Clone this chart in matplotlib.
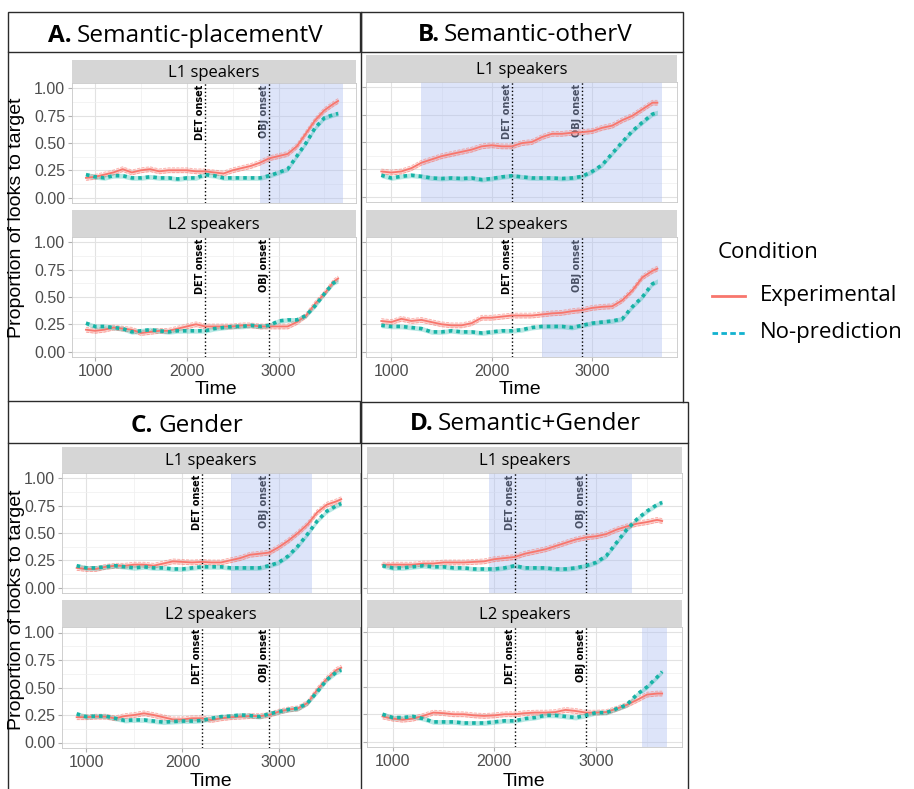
import numpy as np
import matplotlib.pyplot as plt
from matplotlib.lines import Line2D
from matplotlib.patches import Rectangle

W, H = 914, 789

# time points (ms)
time = [900, 1000, 1100, 1200, 1300, 1400, 1500, 1600, 1700, 1800,
        1900, 2000, 2100, 2200, 2300, 2400, 2500, 2600, 2700, 2800,
        2900, 3000, 3100, 3200, 3300, 3400, 3500, 3600, 3650]

# A. Semantic-placementV
a_l1_exp = [0.18, 0.19, 0.21, 0.23, 0.26, 0.23, 0.25, 0.26, 0.24, 0.25, 0.25, 0.25, 0.24, 0.24, 0.23,
            0.22, 0.25, 0.27, 0.29, 0.32, 0.36, 0.38, 0.40, 0.47, 0.59, 0.71, 0.80, 0.86, 0.885]
a_l1_nop = [0.21, 0.19, 0.18, 0.20, 0.20, 0.18, 0.18, 0.19, 0.18, 0.18, 0.17, 0.18, 0.18, 0.21, 0.20,
            0.18, 0.18, 0.18, 0.18, 0.18, 0.20, 0.23, 0.26, 0.38, 0.50, 0.64, 0.73, 0.76, 0.77]
a_l2_exp = [0.20, 0.19, 0.20, 0.22, 0.21, 0.20, 0.17, 0.18, 0.19, 0.19, 0.21, 0.23, 0.25, 0.23, 0.23,
            0.23, 0.23, 0.24, 0.24, 0.23, 0.23, 0.23, 0.23, 0.27, 0.33, 0.44, 0.53, 0.64, 0.67]
a_l2_nop = [0.26, 0.23, 0.23, 0.22, 0.21, 0.18, 0.19, 0.20, 0.19, 0.18, 0.19, 0.19, 0.19, 0.19, 0.21,
            0.22, 0.23, 0.23, 0.24, 0.23, 0.24, 0.28, 0.29, 0.29, 0.33, 0.42, 0.53, 0.63, 0.65]

# B. Semantic-otherV
b_l1_exp = [0.23, 0.22, 0.23, 0.26, 0.31, 0.34, 0.37, 0.39, 0.41, 0.43, 0.46, 0.47, 0.46, 0.46, 0.49,
            0.50, 0.545, 0.575, 0.575, 0.585, 0.59, 0.60, 0.63, 0.65, 0.70, 0.74, 0.80, 0.86, 0.86]
b_l1_nop = [0.195, 0.17, 0.185, 0.195, 0.185, 0.17, 0.165, 0.17, 0.165, 0.17, 0.155, 0.165, 0.18, 0.19, 0.18,
            0.17, 0.17, 0.17, 0.165, 0.17, 0.185, 0.23, 0.29, 0.395, 0.50, 0.60, 0.68, 0.755, 0.77]
b_l2_exp = [0.28, 0.27, 0.30, 0.28, 0.29, 0.27, 0.25, 0.24, 0.24, 0.26, 0.31, 0.31, 0.32, 0.33, 0.33,
            0.33, 0.34, 0.35, 0.355, 0.37, 0.38, 0.40, 0.41, 0.415, 0.47, 0.56, 0.68, 0.74, 0.76]
b_l2_nop = [0.24, 0.23, 0.23, 0.22, 0.21, 0.18, 0.18, 0.19, 0.18, 0.18, 0.17, 0.18, 0.19, 0.19, 0.20,
            0.22, 0.23, 0.23, 0.23, 0.22, 0.24, 0.26, 0.27, 0.28, 0.30, 0.41, 0.50, 0.62, 0.645]

# C. Gender
c_l1_exp = [0.18, 0.17, 0.17, 0.19, 0.20, 0.20, 0.21, 0.21, 0.20, 0.22, 0.24, 0.235, 0.23, 0.235, 0.23,
            0.23, 0.25, 0.27, 0.30, 0.31, 0.32, 0.37, 0.43, 0.50, 0.58, 0.69, 0.76, 0.79, 0.81]
c_l1_nop = [0.20, 0.18, 0.18, 0.19, 0.20, 0.19, 0.18, 0.19, 0.18, 0.18, 0.17, 0.17, 0.18, 0.19, 0.19,
            0.19, 0.18, 0.18, 0.18, 0.18, 0.20, 0.23, 0.29, 0.38, 0.49, 0.61, 0.70, 0.75, 0.77]
c_l2_exp = [0.23, 0.23, 0.235, 0.235, 0.22, 0.24, 0.25, 0.265, 0.25, 0.23, 0.21, 0.21, 0.22, 0.22, 0.205,
            0.22, 0.23, 0.235, 0.24, 0.24, 0.25, 0.28, 0.30, 0.31, 0.36, 0.48, 0.58, 0.66, 0.68]
c_l2_nop = [0.26, 0.235, 0.24, 0.24, 0.22, 0.20, 0.205, 0.205, 0.195, 0.185, 0.19, 0.195, 0.195, 0.20, 0.22,
            0.235, 0.24, 0.25, 0.245, 0.235, 0.26, 0.28, 0.30, 0.31, 0.36, 0.46, 0.57, 0.64, 0.66]

# D. Semantic+Gender
d_l1_exp = [0.21, 0.21, 0.21, 0.21, 0.22, 0.22, 0.23, 0.23, 0.23, 0.235, 0.24, 0.26, 0.27, 0.28, 0.31,
            0.33, 0.35, 0.38, 0.41, 0.44, 0.46, 0.47, 0.49, 0.53, 0.56, 0.585, 0.60, 0.62, 0.61]
d_l1_nop = [0.20, 0.18, 0.18, 0.19, 0.20, 0.19, 0.19, 0.18, 0.18, 0.17, 0.17, 0.17, 0.18, 0.20, 0.18,
            0.18, 0.18, 0.17, 0.17, 0.18, 0.20, 0.23, 0.29, 0.41, 0.53, 0.625, 0.70, 0.76, 0.78]
d_l2_exp = [0.23, 0.21, 0.20, 0.21, 0.235, 0.265, 0.26, 0.25, 0.25, 0.24, 0.235, 0.24, 0.25, 0.25, 0.26,
            0.265, 0.265, 0.27, 0.29, 0.28, 0.265, 0.265, 0.27, 0.30, 0.335, 0.38, 0.43, 0.44, 0.44]
d_l2_nop = [0.25, 0.22, 0.22, 0.23, 0.21, 0.18, 0.18, 0.18, 0.17, 0.17, 0.17, 0.18, 0.19, 0.19, 0.21,
            0.22, 0.24, 0.24, 0.23, 0.22, 0.24, 0.265, 0.265, 0.30, 0.335, 0.43, 0.50, 0.59, 0.64]

det_onset = 2200
obj_onset = 2900

# significant windows (shaded)
a_l1_win = (2800, 3700)
b_l1_win = (1300, 3700)
b_l2_win = (2500, 3700)
c_l1_win = (2500, 3350)
d_l1_win = (1950, 3350)
d_l2_win = (3450, 3700)

RED = '#F8766D'
TEAL = '#17B3A6'
TEAL_LEG = '#12B2CF'
band = 0.022

fig = plt.figure(figsize=(W / 100, H / 100), dpi=100)
fig.patch.set_facecolor('white')


def fx(x):
    return x / W


def fy(y):
    return 1 - y / H


def add_ax(l, t, r, b):
    return fig.add_axes([l / W, 1 - b / H, (r - l) / W, (b - t) / H])


def panel(l, r, st, t, b, label, exp, nop, win, ylab, xlab):
    s = add_ax(l, st, r, t)
    s.set_facecolor('#D6D6D6')
    s.set_xticks([]); s.set_yticks([])
    for sp in s.spines.values():
        sp.set_visible(False)
    s.text(0.5, 0.45, label, ha='center', va='center', fontsize=12, family='Open Sans', transform=s.transAxes)

    ax = add_ax(l, t, r, b)
    ax.set_xlim(748, 3845)
    ax.set_ylim(-0.05, 1.05)
    ax.set_xticks([1000, 2000, 3000])
    ax.set_xticks([1500, 2500, 3500], minor=True)
    ax.set_yticks([0, 0.25, 0.5, 0.75, 1.0])
    ax.set_yticks([0.125, 0.375, 0.625, 0.875], minor=True)
    ax.grid(which='major', color='#E2E2E2', lw=0.8)
    ax.grid(which='minor', color='#EFEFEF', lw=0.5)
    ax.set_axisbelow(True)
    for sp in ax.spines.values():
        sp.set_color('#C8C8C8'); sp.set_linewidth(0.6)
    ax.tick_params(which='major', length=3, color='#B0B0B0', labelsize=11.5, labelcolor='#4D4D4D', pad=2)
    ax.tick_params(which='minor', length=0)
    if ylab:
        ax.set_yticklabels(['0.00', '0.25', '0.50', '0.75', '1.00'], family='Liberation Sans')
    else:
        ax.set_yticklabels([])
    if xlab:
        ax.set_xticklabels(['1000', '2000', '3000'], family='Liberation Sans')
    else:
        ax.set_xticklabels([])
        ax.tick_params(axis='x', length=0)

    if win:
        ax.axvspan(win[0], win[1], color='#AFC0F2', alpha=0.42, lw=0, zorder=2)

    e = np.array(exp); n = np.array(nop)
    ax.fill_between(time, e - band, e + band, color=RED, alpha=0.3, lw=0, zorder=3)
    ax.plot(time, e - band, color=RED, lw=0.6, ls='--', alpha=0.6, zorder=3)
    ax.plot(time, e + band, color=RED, lw=0.6, ls='--', alpha=0.6, zorder=3)
    ax.fill_between(time, n - band, n + band, color=TEAL, alpha=0.3, lw=0, zorder=3)
    ax.plot(time, e, color=RED, lw=1.3, zorder=5)
    ax.plot(time, n, color=TEAL, lw=2.6, ls=(0, (1, 1.1)), zorder=5)

    for x, txt in ((det_onset, 'DET onset'), (obj_onset, 'OBJ onset')):
        ax.axvline(x, color='black', ls=':', lw=1.0, zorder=4)
        ax.text(x, 1.035, txt, rotation=90, ha='right', va='top', fontsize=7,
                fontweight='bold', zorder=1)
    return ax


# panel A
panel(72, 356, 60, 83, 203, 'L1 speakers', a_l1_exp, a_l1_nop, a_l1_win, True, False)
panel(72, 356, 210, 237, 357, 'L2 speakers', a_l2_exp, a_l2_nop, None, True, True)
# panel B
panel(366, 677, 55, 82, 202, 'L1 speakers', b_l1_exp, b_l1_nop, b_l1_win, False, False)
panel(366, 677, 210, 237, 357, 'L2 speakers', b_l2_exp, b_l2_nop, b_l2_win, False, True)
# panel C
panel(62, 360, 447, 473, 593, 'L1 speakers', c_l1_exp, c_l1_nop, c_l1_win, True, False)
panel(62, 360, 600, 627, 748, 'L2 speakers', c_l2_exp, c_l2_nop, None, True, True)
# panel D
panel(367, 682, 447, 473, 593, 'L1 speakers', d_l1_exp, d_l1_nop, d_l1_win, False, False)
panel(367, 682, 600, 627, 747, 'L2 speakers', d_l2_exp, d_l2_nop, d_l2_win, False, True)

# axis titles
for xc, yc in ((216, 390), (211, 782), (520, 390), (524, 782)):
    fig.text(fx(xc), fy(yc), 'Time', ha='center', va='center', fontsize=14, family='Liberation Sans')
for yc in (218, 610):
    fig.text(fx(17), fy(yc), 'Proportion of looks to target', ha='center', va='center',
             rotation=90, fontsize=14, family='Liberation Sans')

# header boxes and frames
def box(x0, y0, x1, y1):
    fig.add_artist(Rectangle((fx(x0), fy(y1)), fx(x1) - fx(x0), fy(y0) - fy(y1),
                             transform=fig.transFigure, fill=False, ec='#2B2B2B', lw=1.0))


def vline(x, y0, y1):
    fig.add_artist(Line2D([fx(x), fx(x)], [fy(y0), fy(y1)], transform=fig.transFigure,
                          color='#2B2B2B', lw=1.0))


box(8, 12, 360, 52)
box(361, 12, 683, 52)
box(8, 401, 360, 443)
box(361, 402, 688, 443)
vline(8, 52, 401)
vline(683, 52, 402)
vline(360.5, 12, 789)
vline(8, 443, 789)
vline(688, 443, 789)

titles = [(72, 77, 42, 'A.', 'Semantic-placementV'),
          (440, 444, 41, 'B.', 'Semantic-otherV'),
          (153, 158, 432, 'C.', 'Gender'),
          (434, 438, 430, 'D.', 'Semantic+Gender')]
for xb, xt, yb, lett, name in titles:
    fig.text(fx(xb), fy(yb), lett, ha='right', va='baseline', fontsize=17.5,
             fontweight='bold', family='Open Sans')
    fig.text(fx(xt), fy(yb), name, ha='left', va='baseline', fontsize=17.5, family='Open Sans')

# legend
fig.text(fx(718), fy(253), 'Condition', ha='left', va='center', fontsize=16, family='Open Sans')
fig.add_artist(Line2D([fx(712), fx(745)], [fy(296), fy(296)], transform=fig.transFigure,
                      color=RED, lw=2.0))
fig.add_artist(Line2D([fx(712), fx(745)], [fy(333), fy(333)], transform=fig.transFigure,
                      color=TEAL_LEG, lw=2.0, ls=(0, (2, 1.2))))
fig.text(fx(760), fy(296), 'Experimental', ha='left', va='center', fontsize=16, family='Open Sans')
fig.text(fx(760), fy(333), 'No-prediction', ha='left', va='center', fontsize=16, family='Open Sans')

fig.savefig('out.png', dpi=100)
